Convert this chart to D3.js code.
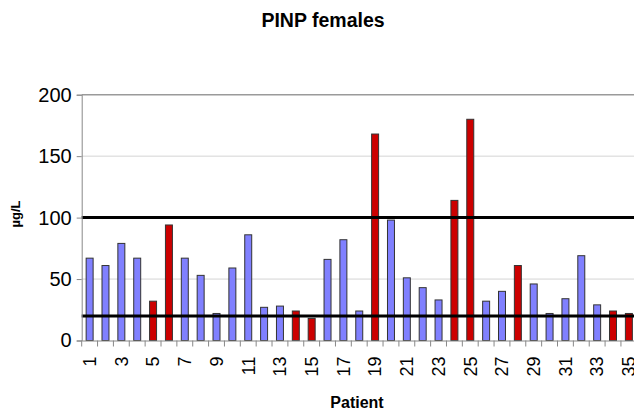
<!DOCTYPE html>
<html>
<head>
<meta charset="utf-8">
<script src="https://cdn.jsdelivr.net/npm/d3@7"></script>
<style>
  html, body { margin: 0; padding: 0; background: #fff; }
  svg { display: block; }
</style>
</head>
<body>
<svg id="chart" width="634" height="413"></svg>
<script>
const patients = d3.range(1, 36).map(String);
const values = [67, 61, 79, 67, 32, 94, 67, 53, 22, 59, 86, 27, 28, 24, 18, 66, 82, 24, 168, 98,
                51, 43, 33, 114, 180, 32, 40, 61, 46, 22, 34, 69, 29, 24, 22];
const highlighted = ["5", "6", "14", "15", "19", "24", "25", "28", "34", "35"];
const referenceLines = [20, 100];
const yTicks = [0, 50, 100, 150, 200];
const gridValues = [50, 150];
const xLabels = patients.filter((d, i) => i % 2 === 0);

const svg = d3.select("#chart");
const plotLeft = 81.7, plotTop = 94.7, plotBottom = 340.5, plotRight = 634;
const x = d3.scaleBand().domain(patients).range([plotLeft, plotLeft + 35 * 15.86]).paddingInner(0.56).paddingOuter(0.28);
const y = d3.scaleLinear().domain([0, 200]).range([plotBottom, plotTop]);

// gridlines
svg.append("g").selectAll("line").data(gridValues).join("line")
  .attr("x1", plotLeft).attr("x2", plotRight)
  .attr("y1", d => y(d)).attr("y2", d => y(d))
  .attr("stroke", "#d4d4d4").attr("stroke-width", 1);
svg.append("line").attr("x1", plotLeft).attr("x2", plotRight)
  .attr("y1", y(200)).attr("y2", y(200))
  .attr("stroke", "#9a9a9a").attr("stroke-width", 1.5);

// bars
svg.append("g").selectAll("rect").data(patients).join("rect")
  .attr("x", d => x(d))
  .attr("width", x.bandwidth())
  .attr("y", (d, i) => y(values[i]))
  .attr("height", (d, i) => y(0) - y(values[i]))
  .attr("fill", d => highlighted.includes(d) ? "#cc0000" : "#8080ff")
  .attr("stroke", "#333")
  .attr("stroke-width", 1);

// reference lines
svg.append("g").selectAll("line").data(referenceLines).join("line")
  .attr("x1", plotLeft).attr("x2", plotRight)
  .attr("y1", d => y(d)).attr("y2", d => y(d))
  .attr("stroke", "#000").attr("stroke-width", 3);

// y axis
const yAxis = svg.append("g").attr("transform", `translate(${plotLeft},0)`)
  .call(d3.axisLeft(y).tickValues(yTicks).tickSize(5).tickPadding(5));
yAxis.select(".domain").attr("stroke", "#888");
yAxis.selectAll(".tick line").attr("stroke", "#888");
yAxis.selectAll("text").attr("font-family", "Liberation Sans, Arial, sans-serif")
  .attr("font-size", 20).attr("fill", "#000");

// x axis
const xAxis = svg.append("g").attr("transform", `translate(0,${plotBottom})`)
  .call(d3.axisBottom(x).tickValues(xLabels).tickSize(0).tickPadding(0));
xAxis.select(".domain").attr("stroke", "#888");
xAxis.selectAll(".tick text")
  .attr("font-family", "Liberation Sans, Arial, sans-serif")
  .attr("font-size", 18).attr("fill", "#000")
  .attr("text-anchor", "end")
  .attr("transform", "rotate(-90)")
  .attr("x", -16).attr("y", 0).attr("dy", "0.35em");
// category boundary tick marks
const step = x.step();
svg.append("g").selectAll("line").data(d3.range(0, 36)).join("line")
  .attr("x1", d => plotLeft + d * step).attr("x2", d => plotLeft + d * step)
  .attr("y1", plotBottom).attr("y2", plotBottom + 6)
  .attr("stroke", "#888");

// titles
svg.append("text").attr("x", 323).attr("y", 27).attr("text-anchor", "middle")
  .attr("font-family", "Liberation Sans, Arial, sans-serif").attr("font-weight", "bold")
  .attr("font-size", 19.5).text("PINP females");
svg.append("text").attr("x", 357).attr("y", 408).attr("text-anchor", "middle")
  .attr("font-family", "Liberation Sans, Arial, sans-serif").attr("font-weight", "bold")
  .attr("font-size", 16).text("Patient");
svg.append("text").attr("transform", "translate(20,214) rotate(-90)").attr("text-anchor", "middle")
  .attr("font-family", "Liberation Sans, Arial, sans-serif").attr("font-weight", "bold")
  .attr("font-size", 13).text("µg/L");
</script>
</body>
</html>
